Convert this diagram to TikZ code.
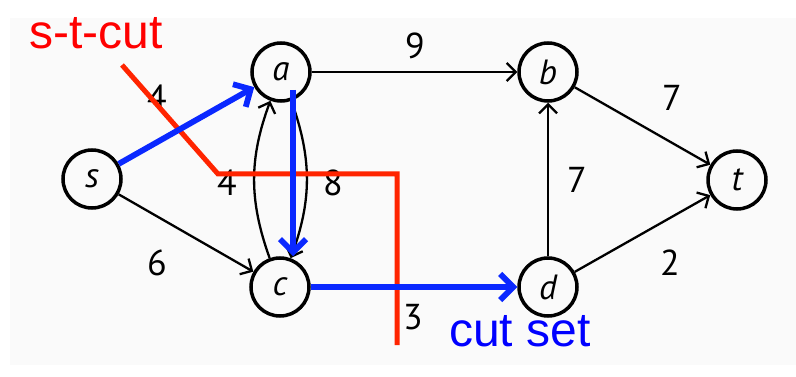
\documentclass[tikz,border=0pt]{standalone}
\usepackage{fontspec}
\setmainfont{PT Sans}
\newfontfamily\captionfont{Liberation Sans}
\usetikzlibrary{arrows.meta}

\definecolor{cutred}{RGB}{255,36,0}
\definecolor{cutblue}{RGB}{10,40,255}
\definecolor{textred}{RGB}{255,0,0}
\definecolor{textblue}{RGB}{0,0,255}
\definecolor{panel}{RGB}{250,250,250}

\tikzset{
  vertex/.style={circle, draw, line width=3.5pt, minimum size=58pt, inner sep=0pt,
    font=\fontsize{35}{35}\selectfont\itshape},
  flow/.style={line width=2.3pt, -{Straight Barb[length=9pt,width=18pt]}},
  cutedge/.style={draw=cutblue, line width=5.8pt, -{Straight Barb[length=13pt,width=26pt]}},
  weight/.style={font=\fontsize{36}{36}\selectfont},
  cutline/.style={draw=cutred, line width=5pt},
  caption/.style={font=\captionfont\fontsize{48}{48}\selectfont}
}

\begin{document}
\begin{tikzpicture}[x=1pt,y=-1pt]
  \useasboundingbox (0,0) rectangle (796,377);
  \fill[panel] (10,18) rectangle (796,365);

  % vertices
  \node[vertex] (s) at (92,179) {s};
  \node[vertex] (a) at (281,72) {a};
  \node[vertex] (b) at (548,72) {b};
  \node[vertex] (t) at (737,180) {t};
  \node[vertex] (c) at (280,287) {c};
  \node[vertex] (d) at (548,287) {d};

  % edges of the network
  \draw[flow] (s) -- (c);
  \draw[flow] (a) -- (b);
  \draw[flow] (b) -- (t);
  \draw[flow] (d) -- (b);
  \draw[flow] (d) -- (t);
  \draw[flow] (c) to[bend left=20] (a);
  \draw[flow] (a) to[bend left=20] (c);

  % capacities
  \node[weight] (w1) at (157,98) {4};
  \node[weight] (w2) at (227,183) {4};
  \node[weight] (w3) at (333,183) {8};
  \node[weight] (w4) at (415,46) {9};
  \node[weight] (w5) at (157,263) {6};
  \node[weight] (w6) at (672,98) {7};
  \node[weight] (w7) at (577,180) {7};
  \node[weight] (w8) at (670,263) {2};
  \node[weight] (w9) at (413,317) {3};

  % the s-t-cut
  \coordinate (k1) at (122,65);
  \coordinate (k2) at (218,174);
  \coordinate (k3) at (397,174);
  \coordinate (k4) at (397,345);
  \draw[cutline] (k1) -- (k2) -- (k3) -- (k4);
  \node[caption, text=textred] (cutlabel) at (96,33) {s-t-cut};

  % edges crossing the cut
  \draw[cutedge] (s) -- (a);
  \coordinate (av) at (293,90);
  \draw[cutedge] (av) -- (c.north -| av);
  \draw[cutedge] (c) -- (d);
  \node[caption, text=textblue] (setlabel) at (520,331) {cut set};
\end{tikzpicture}
\end{document}
